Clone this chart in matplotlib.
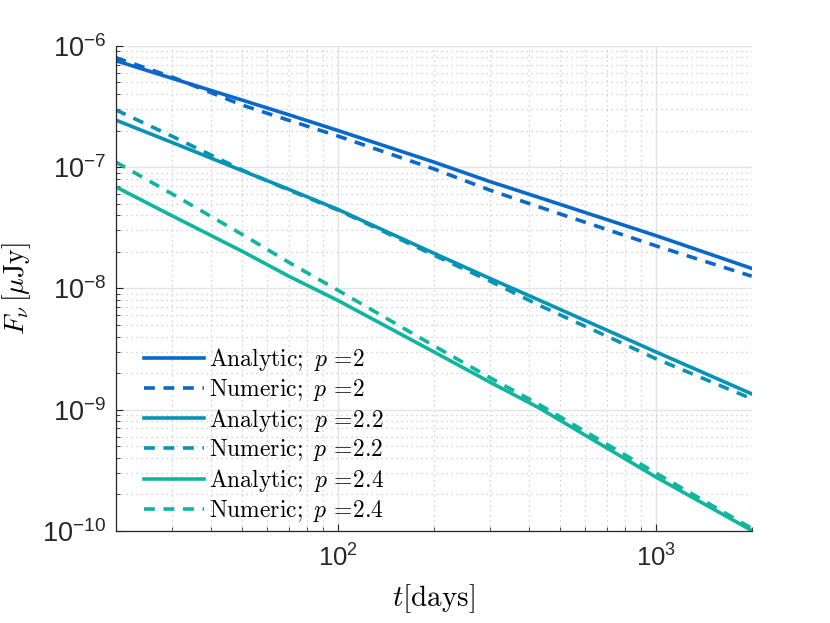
import matplotlib
matplotlib.use('Agg')
import matplotlib.pyplot as plt
from matplotlib.ticker import LogLocator, NullFormatter

# Estilo tipo MATLAB
plt.rcParams['font.family'] = ['Liberation Sans', 'DejaVu Sans']
plt.rcParams['mathtext.fontset'] = 'cm'

# Datos (t en días, F en muJy)
t = [20, 30, 50, 70, 100, 200, 300, 430, 1000, 2000]

analytic_p20 = [7.53e-7, 5.4e-7, 3.56e-7, 2.7e-7, 2.0e-7, 1.1e-7, 7.6e-8, 5.6e-8, 2.72e-8, 1.46e-8]
numeric_p20 = [7.98e-7, 5.53e-7, 3.24e-7, 2.43e-7, 1.8e-7, 9.66e-8, 6.46e-8, 4.68e-8, 2.24e-8, 1.26e-8]

analytic_p22 = [2.44e-7, 1.6e-7, 9.33e-8, 6.56e-8, 4.47e-8, 1.95e-8, 1.21e-8, 7.98e-9, 2.99e-9, 1.35e-9]
numeric_p22 = [2.96e-7, 1.8e-7, 9.44e-8, 6.46e-8, 4.42e-8, 1.88e-8, 1.15e-8, 7.24e-9, 2.63e-9, 1.23e-9]

analytic_p24 = [6.87e-8, 3.98e-8, 2.02e-8, 1.26e-8, 7.94e-9, 3.0e-9, 1.69e-9, 1.03e-9, 2.78e-10, 1.01e-10]
numeric_p24 = [1.1e-7, 6.03e-8, 2.78e-8, 1.64e-8, 9.64e-9, 3.37e-9, 1.84e-9, 1.1e-9, 3.0e-10, 1.05e-10]

p_labels = ['2', '2.2', '2.4']
colores = ['#0A68C8', '#0893B5', '#10B59E']

y_ticks = [1e-10, 1e-9, 1e-8, 1e-7, 1e-6]
x_ticks = [100, 1000]

fig = plt.figure(figsize=(8.3, 6.23), dpi=100)
ax = fig.add_axes([0.1394, 0.1477, 0.7663, 0.7789])

series = [(analytic_p20, numeric_p20), (analytic_p22, numeric_p22), (analytic_p24, numeric_p24)]
for (ana, num), p, c in zip(series, p_labels, colores):
    ax.plot(t, ana, '-', color=c, linewidth=2.6,
            label=r'$\mathrm{Analytic;}\ p\,=\!%s$' % p)
    ax.plot(t, num, '--', color=c, linewidth=2.6, dashes=(3.0, 2.4),
            dash_capstyle='butt',
            label=r'$\mathrm{Numeric;}\ p\,=\!%s$' % p)

ax.set_xscale('log')
ax.set_yscale('log')
ax.set_xlim(20, 2000)
ax.set_ylim(1e-10, 1e-6)

ax.set_yticks(y_ticks)
ax.set_xticks(x_ticks)
ax.yaxis.set_minor_locator(LogLocator(base=10, subs=range(2, 10), numticks=20))
ax.yaxis.set_minor_formatter(NullFormatter())
ax.xaxis.set_minor_formatter(NullFormatter())

# Rejilla
ax.grid(True, which='major', color='#E3E3E3', linewidth=1.0, linestyle='-')
ax.grid(True, which='minor', color='#C8C8C8', linewidth=0.9, linestyle=(0, (1, 3)))
ax.set_axisbelow(True)

for lado in ['top', 'right']:
    ax.spines[lado].set_visible(False)
for lado in ['left', 'bottom']:
    ax.spines[lado].set_color('#262626')
    ax.spines[lado].set_linewidth(0.9)

ax.tick_params(which='both', direction='in', colors='#262626')
ax.tick_params(which='major', length=5)
ax.tick_params(which='minor', length=2.8)
ax.tick_params(axis='y', labelsize=19.5, pad=7)
ax.tick_params(axis='x', labelsize=18.5, pad=10)

ax.set_xlabel(r'$t[\mathrm{days}]$', fontsize=21, labelpad=7)
ax.set_ylabel(r'$F_\nu\,[\mu\mathrm{Jy}]$', fontsize=20)
ax.yaxis.set_label_coords(-0.13, 0.5)

leg = ax.legend(loc='lower left', bbox_to_anchor=(0.03, -0.005), frameon=False,
                fontsize=17, handlelength=2.55, handletextpad=0.2,
                labelspacing=0.16, borderaxespad=0.0)

plt.savefig('out.png', dpi=100)
plt.close()
